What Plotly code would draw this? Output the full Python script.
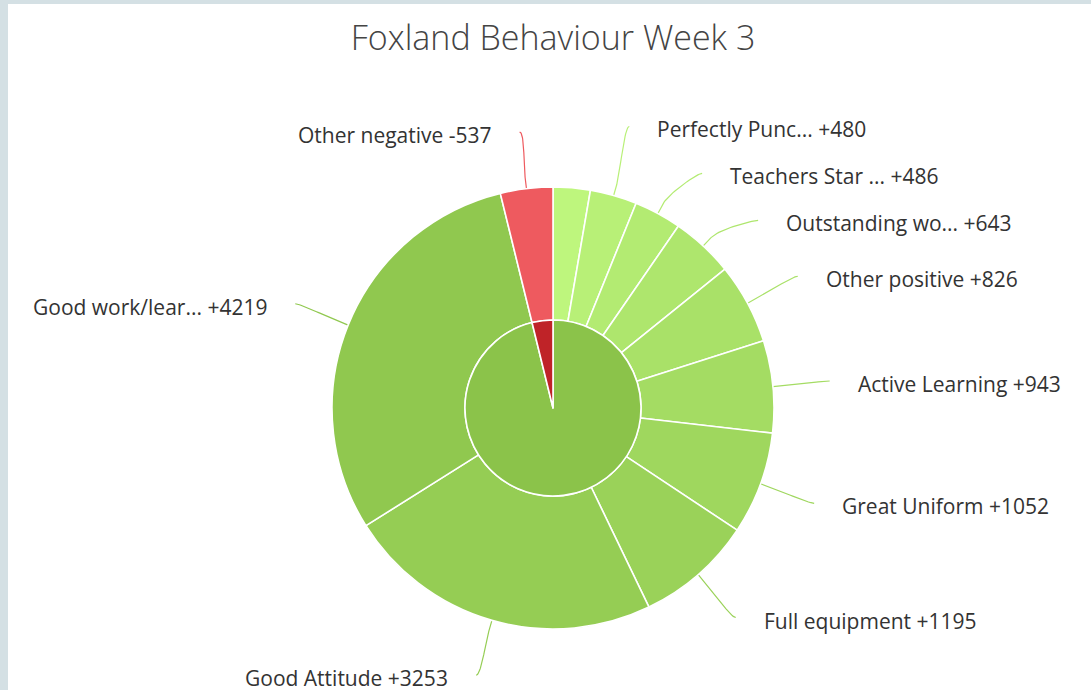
import math
import plotly.graph_objects as go

# ---------------- data ----------------
title_text = "Foxland Behaviour Week 3"
pos_names = ["(label hidden)", "Perfectly Punc...", "Teachers Star ...", "Outstanding wo...",
             "Other positive", "Active Learning", "Great Uniform", "Full equipment",
             "Good Attitude", "Good work/lear..."]
pos_points = [380, 480, 486, 643, 826, 943, 1052, 1195, 3253, 4219]
neg_names = ["Other negative"]
neg_points = [537]
inner_names = ["Positive", "Negative"]
hidden_labels = ["(label hidden)"]

# ---------------- layout constants ----------------
W, H = 1091, 690
CX, CY = 553, 408
R_OUT, R_IN = 221, 88
LABEL_DIST = 57
BOX = 47
TEXT_GAP = 26

base_green = (139, 195, 74)
def brighten(rgb, amt):
    return "rgb({},{},{})".format(*[min(255, c + int(255 * amt)) for c in rgb])

n_pos = len(pos_points)
pos_colors = [brighten(base_green, 0.2 - (j / n_pos) / 5) for j in range(n_pos)]
neg_colors = ["#ee5a5f"]
inner_colors = ["#8bc34a", "#bf2328"]

outer_names = pos_names + neg_names
outer_vals = pos_points + neg_points
outer_cols = pos_colors + neg_colors
inner_vals = [sum(pos_points), sum(neg_points)]
outer_text = ["{} +{}".format(n, v) for n, v in zip(pos_names, pos_points)] + \
             ["{} -{}".format(n, v) for n, v in zip(neg_names, neg_points)]

fig = go.Figure()

def dom(r):
    return dict(x=[(CX - r) / W, (CX + r) / W], y=[1 - (CY + r) / H, 1 - (CY - r) / H])

fig.add_trace(go.Pie(values=outer_vals, labels=outer_names, sort=False, direction="clockwise",
                     rotation=0, hole=R_IN / R_OUT, domain=dom(R_OUT), textinfo="none",
                     hoverinfo="skip", showlegend=False,
                     marker=dict(colors=outer_cols, line=dict(color="white", width=1.6))))
fig.add_trace(go.Pie(values=inner_vals, labels=inner_names, sort=False, direction="clockwise",
                     rotation=0, domain=dom(R_IN), textinfo="none", hoverinfo="skip",
                     showlegend=False,
                     marker=dict(colors=inner_colors, line=dict(color="white", width=1.6))))

# ---------------- labels (Highcharts-like layout) ----------------
total = sum(outer_vals)
RL = R_OUT + LABEL_DIST
items = []
cum = 0
for i, v in enumerate(outer_vals):
    mid = 2 * math.pi * (cum + v / 2) / total
    cum += v
    if outer_names[i] in hidden_labels:
        continue
    right = math.sin(mid) >= 0
    items.append(dict(i=i, th=mid, right=right, ny=CY - RL * math.cos(mid)))

def distribute(group):
    group = sorted(group, key=lambda d: d["ny"])
    boxes = [dict(members=[g], targets=[g["ny"]], size=BOX, pos=g["ny"] - BOX / 2) for g in group]
    merged = True
    while merged:
        merged = False
        for k in range(len(boxes) - 1):
            a, b = boxes[k], boxes[k + 1]
            if a["pos"] + a["size"] > b["pos"]:
                a["members"] += b["members"]
                a["targets"] += b["targets"]
                a["size"] += b["size"]
                a["pos"] = sum(a["targets"]) / len(a["targets"]) - a["size"] / 2 + 4
                del boxes[k + 1]
                merged = True
                break
    for bx in boxes:
        for k, m in enumerate(bx["members"]):
            m["fy"] = bx["pos"] + BOX * (k + 0.5)

distribute([d for d in items if d["right"]])
distribute([d for d in items if not d["right"]])

def bez(p0, p1, p2, p3, n=24):
    pts = []
    for k in range(n + 1):
        t = k / n
        u = 1 - t
        pts.append((u**3 * p0[0] + 3 * u * u * t * p1[0] + 3 * u * t * t * p2[0] + t**3 * p3[0],
                    u**3 * p0[1] + 3 * u * u * t * p1[1] + 3 * u * t * t * p2[1] + t**3 * p3[1]))
    return pts

annotations = []
for d in items:
    sgn = 1 if d["right"] else -1
    dy = d["fy"] - CY
    if abs(dy) >= RL - 2:
        dy = d["ny"] - CY
    lx = CX + sgn * math.sqrt(max(RL * RL - dy * dy, 0))
    ly = d["fy"]
    th = d["th"]
    E = (CX + R_OUT * math.sin(th), CY - R_OUT * math.cos(th))
    off = LABEL_DIST / 5
    B = (CX + (R_OUT + off) * math.sin(th), CY - (R_OUT + off) * math.cos(th))
    pts = bez((lx, ly), (lx - sgn * 5, ly), (2 * B[0] - E[0], 2 * B[1] - E[1]), B) + [E]
    fig.add_trace(go.Scatter(x=[p[0] for p in pts], y=[p[1] for p in pts], mode="lines",
                             line=dict(color=outer_cols[d["i"]], width=1.2),
                             hoverinfo="skip", showlegend=False))
    annotations.append(dict(x=lx + sgn * TEXT_GAP, y=ly + 3, xref="x", yref="y",
                            text=outer_text[d["i"]], showarrow=False,
                            xanchor="left" if d["right"] else "right", yanchor="middle",
                            font=dict(family="Open Sans", size=21, color="#333333")))

fig.update_layout(
    width=W, height=H,
    margin=dict(l=0, r=0, t=0, b=0),
    paper_bgcolor="#d4e0e4",
    plot_bgcolor="white",
    xaxis=dict(domain=[8 / W, 1], range=[8, W], visible=False, fixedrange=True),
    yaxis=dict(domain=[0, 1 - 4 / H], range=[H, 4], visible=False, fixedrange=True),
    title=dict(text=title_text, x=CX / W, xanchor="center", y=1 - 38 / H, yanchor="middle",
               font=dict(family="Open Sans", size=34, color="#444444", weight=300)),
    annotations=annotations,
    showlegend=False,
)

fig.write_html("out.html", config={"displayModeBar": False},
               post_script="document.body.style.margin='0';document.body.style.overflow='hidden';")
